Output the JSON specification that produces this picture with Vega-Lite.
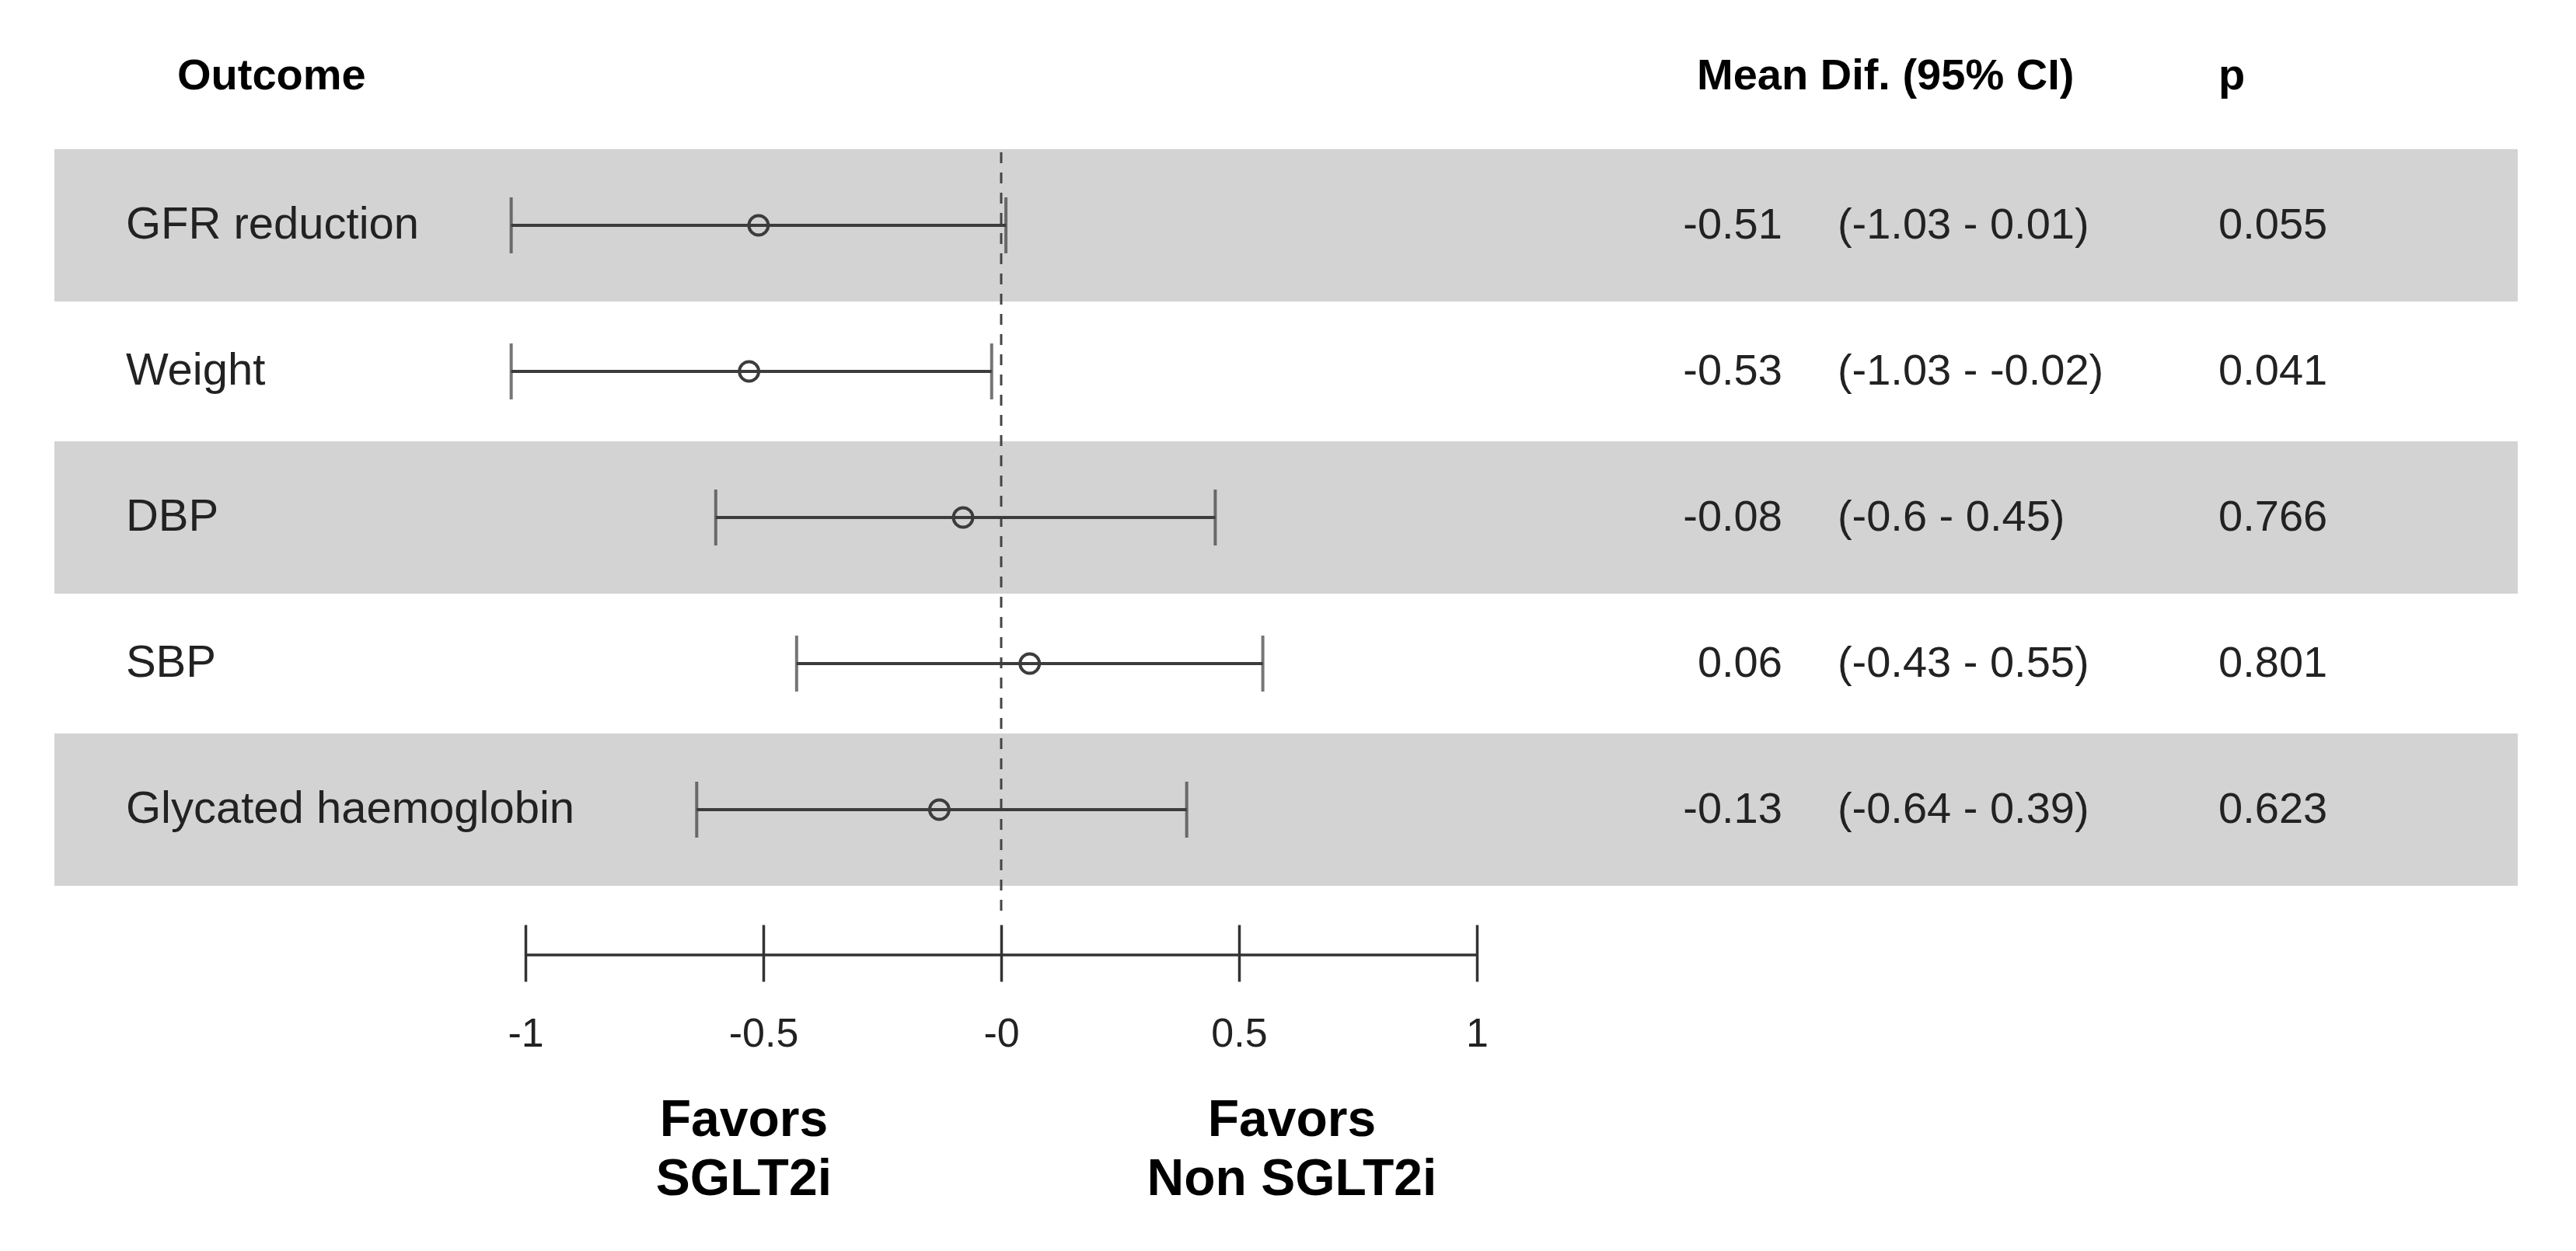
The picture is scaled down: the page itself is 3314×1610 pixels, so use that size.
{
  "$schema": "https://vega.github.io/schema/vega-lite/v6.json",
  "width": 1224,
  "height": 1128,
  "autosize": {"type": "none"},
  "padding": {"left": 676, "top": 8, "right": 1414, "bottom": 474},
  "background": "white",
  "config": {
    "view": {"stroke": null},
    "text": {"font": "Liberation Sans", "color": "#222222"},
    "axisY": {"disable": true},
    "axisX": {
      "domain": false,
      "tickColor": "#333333",
      "tickWidth": 3.5,
      "tickSize": 73,
      "labelPadding": 67,
      "labelBaseline": "middle",
      "labelFont": "Liberation Sans",
      "labelFontSize": 52,
      "labelColor": "#222222",
      "labelFlush": false,
      "labelOverlap": false,
      "grid": false
    }
  },
  "data": {
    "values": [
      {"outcome": "GFR reduction", "mean": -0.51, "lo": -1.03, "hi": 0.01, "ci": "(-1.03 - 0.01)", "p": "0.055"},
      {"outcome": "Weight", "mean": -0.53, "lo": -1.03, "hi": -0.02, "ci": "(-1.03 - -0.02)", "p": "0.041"},
      {"outcome": "DBP", "mean": -0.08, "lo": -0.6, "hi": 0.45, "ci": "(-0.6 - 0.45)", "p": "0.766"},
      {"outcome": "SBP", "mean": 0.06, "lo": -0.43, "hi": 0.55, "ci": "(-0.43 - 0.55)", "p": "0.801"},
      {"outcome": "Glycated haemoglobin", "mean": -0.13, "lo": -0.64, "hi": 0.39, "ci": "(-0.64 - 0.39)", "p": "0.623"}
    ]
  },
  "layer": [
    {
      "transform": [
        {"window": [{"op": "row_number", "as": "rn"}]},
        {"filter": "datum.rn % 2 == 1"}
      ],
      "mark": {"type": "rect", "fill": "#d3d3d3", "stroke": "#d3d3d3", "strokeWidth": 8},
      "encoding": {
        "x": {
          "datum": -1.9837,
          "type": "quantitative",
          "scale": {"domain": [-1, 1], "nice": false, "zero": false},
          "axis": {
            "values": [-1, -0.5, 0, 0.5, 1],
            "labelExpr": "datum.value === 0 ? '-0' : toString(datum.value)",
            "offset": 54,
            "title": null
          }
        },
        "x2": {"datum": 3.1814},
        "y": {
          "field": "outcome",
          "type": "nominal",
          "sort": null,
          "scale": {
            "domain": ["header", "GFR reduction", "Weight", "DBP", "SBP", "Glycated haemoglobin"],
            "paddingInner": 0,
            "paddingOuter": 0
          },
          "axis": null
        }
      }
    },
    {
      "data": {"values": [{}]},
      "mark": {"type": "rule", "color": "#333333", "strokeWidth": 3.5, "yOffset": 93},
      "encoding": {
        "x": {"datum": -1, "type": "quantitative"},
        "x2": {"datum": 1},
        "y": {"value": "height"}
      }
    },
    {
      "data": {"values": [{}]},
      "mark": {"type": "rule", "color": "#444444", "strokeWidth": 3, "strokeDash": [14, 12], "y2Offset": 47},
      "encoding": {
        "x": {"datum": 0, "type": "quantitative"},
        "y": {"datum": "GFR reduction", "type": "nominal", "bandPosition": 0},
        "y2": {"value": "height"}
      }
    },
    {
      "mark": {"type": "rule", "color": "#3c3c3c", "strokeWidth": 4},
      "encoding": {
        "x": {"field": "lo", "type": "quantitative", "title": null},
        "x2": {"field": "hi"},
        "y": {"field": "outcome", "type": "nominal", "axis": null}
      }
    },
    {
      "mark": {"type": "tick", "color": "#3c3c3c", "thickness": 4, "size": 72, "orient": "vertical"},
      "encoding": {
        "x": {"field": "lo", "type": "quantitative", "title": null},
        "y": {"field": "outcome", "type": "nominal", "axis": null}
      }
    },
    {
      "mark": {"type": "tick", "color": "#3c3c3c", "thickness": 4, "size": 72, "orient": "vertical"},
      "encoding": {
        "x": {"field": "hi", "type": "quantitative", "title": null},
        "y": {"field": "outcome", "type": "nominal", "axis": null}
      }
    },
    {
      "mark": {"type": "point", "shape": "circle", "filled": false, "size": 620, "strokeWidth": 4, "color": "#3c3c3c", "opacity": 1},
      "encoding": {
        "x": {"field": "mean", "type": "quantitative", "title": null},
        "y": {"field": "outcome", "type": "nominal", "axis": null}
      }
    },
    {
      "mark": {"type": "text", "align": "left", "baseline": "middle", "fontSize": 58},
      "encoding": {
        "x": {"datum": -1.84, "type": "quantitative"},
        "y": {"field": "outcome", "type": "nominal", "axis": null},
        "text": {"field": "outcome", "type": "nominal"}
      }
    },
    {
      "mark": {"type": "text", "align": "right", "baseline": "middle", "fontSize": 56},
      "encoding": {
        "x": {"datum": 1.642, "type": "quantitative"},
        "y": {"field": "outcome", "type": "nominal", "axis": null},
        "text": {"field": "mean", "type": "nominal"}
      }
    },
    {
      "mark": {"type": "text", "align": "left", "baseline": "middle", "fontSize": 56},
      "encoding": {
        "x": {"datum": 1.758, "type": "quantitative"},
        "y": {"field": "outcome", "type": "nominal", "axis": null},
        "text": {"field": "ci", "type": "nominal"}
      }
    },
    {
      "mark": {"type": "text", "align": "left", "baseline": "middle", "fontSize": 56},
      "encoding": {
        "x": {"datum": 2.559, "type": "quantitative"},
        "y": {"field": "outcome", "type": "nominal", "axis": null},
        "text": {"field": "p", "type": "nominal"}
      }
    },
    {
      "data": {"values": [{}]},
      "mark": {"type": "text", "align": "left", "baseline": "middle", "fontSize": 56, "fontWeight": "bold", "color": "#000000", "dy": -4},
      "encoding": {
        "x": {"datum": -1.732, "type": "quantitative"},
        "y": {"datum": "header", "type": "nominal"},
        "text": {"value": "Outcome"}
      }
    },
    {
      "data": {"values": [{}]},
      "mark": {"type": "text", "align": "left", "baseline": "middle", "fontSize": 56, "fontWeight": "bold", "color": "#000000", "dy": -4},
      "encoding": {
        "x": {"datum": 1.4624, "type": "quantitative"},
        "y": {"datum": "header", "type": "nominal"},
        "text": {"value": "Mean Dif. (95% CI)"}
      }
    },
    {
      "data": {"values": [{}]},
      "mark": {"type": "text", "align": "left", "baseline": "middle", "fontSize": 56, "fontWeight": "bold", "color": "#000000", "dy": -4},
      "encoding": {
        "x": {"datum": 2.559, "type": "quantitative"},
        "y": {"datum": "header", "type": "nominal"},
        "text": {"value": "p"}
      }
    },
    {
      "data": {"values": [{}]},
      "mark": {"type": "text", "align": "center", "baseline": "top", "fontSize": 66, "fontWeight": "bold", "color": "#000000", "lineHeight": 76, "dy": 274},
      "encoding": {
        "x": {"datum": -0.541, "type": "quantitative"},
        "y": {"value": "height"},
        "text": {"value": ["Favors", "SGLT2i"]}
      }
    },
    {
      "data": {"values": [{}]},
      "mark": {"type": "text", "align": "center", "baseline": "top", "fontSize": 66, "fontWeight": "bold", "color": "#000000", "lineHeight": 76, "dy": 274},
      "encoding": {
        "x": {"datum": 0.611, "type": "quantitative"},
        "y": {"value": "height"},
        "text": {"value": ["Favors", "Non SGLT2i"]}
      }
    }
  ]
}
